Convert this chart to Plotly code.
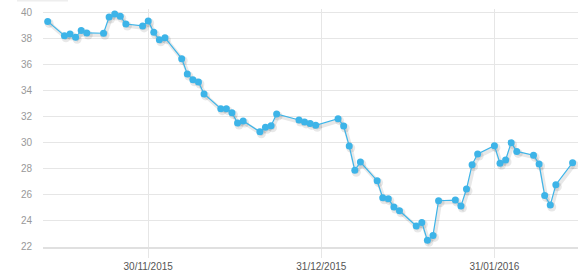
import plotly.graph_objects as go
import pandas as pd

# ---- data ----
dates = [
    "2015-11-12", "2015-11-15", "2015-11-16", "2015-11-17", "2015-11-18", "2015-11-19",
    "2015-11-22", "2015-11-23", "2015-11-24", "2015-11-25", "2015-11-26",
    "2015-11-29", "2015-11-30", "2015-12-01", "2015-12-02", "2015-12-03",
    "2015-12-06", "2015-12-07", "2015-12-08", "2015-12-09", "2015-12-10",
    "2015-12-13", "2015-12-14", "2015-12-15", "2015-12-16", "2015-12-17",
    "2015-12-20", "2015-12-21", "2015-12-22", "2015-12-23",
    "2015-12-27", "2015-12-28", "2015-12-29", "2015-12-30",
    "2016-01-03", "2016-01-04", "2016-01-05", "2016-01-06", "2016-01-07",
    "2016-01-10", "2016-01-11", "2016-01-12", "2016-01-13", "2016-01-14",
    "2016-01-17", "2016-01-18", "2016-01-19", "2016-01-20", "2016-01-21",
    "2016-01-24", "2016-01-25", "2016-01-26", "2016-01-27", "2016-01-28",
    "2016-01-31", "2016-02-01", "2016-02-02", "2016-02-03", "2016-02-04",
    "2016-02-07", "2016-02-08", "2016-02-09", "2016-02-10", "2016-02-11",
    "2016-02-14",
]
values = [
    39.3, 38.2, 38.33, 38.08, 38.59, 38.41,
    38.39, 39.64, 39.87, 39.69, 39.1,
    38.95, 39.33, 38.46, 37.88, 38.05,
    36.44, 35.26, 34.82, 34.65, 33.73,
    32.6, 32.6, 32.29, 31.5, 31.65,
    30.83, 31.17, 31.29, 32.19,
    31.73, 31.58, 31.47, 31.32,
    31.83, 31.27, 29.73, 27.87, 28.5,
    27.07, 25.76, 25.68, 25.05, 24.76,
    23.59, 23.87, 22.49, 22.87, 25.53,
    25.58, 25.12, 26.43, 28.3, 29.12,
    29.76, 28.4, 28.66, 29.99, 29.32,
    29.02, 28.35, 25.94, 25.2, 26.76,
    28.45,
]
tick_dates = ["2015-11-30", "2015-12-31", "2016-01-31"]
tick_labels = ["30/11/2015", "31/12/2015", "31/01/2016"]
y_ticks = [22, 24, 26, 28, 30, 32, 34, 36, 38, 40]

# ---- layout constants ----
W, H = 585, 279
ML, MR, MT, MB = 43, 7, 9, 32
plot_w = W - ML - MR
plot_h = H - MT - MB

x0 = pd.Timestamp("2015-11-11 03:50")
x1 = pd.Timestamp("2016-02-14 23:15")
y_lo, y_hi = 21.98, 40.25

# shadow offset (pixels) converted to axis units
sx = 1.5 * (x1 - x0) / plot_w
sy = 2.0 * (y_hi - y_lo) / plot_h

color = "#3db4e8"
grid = "#e6e6e6"
label_col = "#999999"
font_fam = "Arial, 'Liberation Sans', sans-serif"

fig = go.Figure()

# invisible carrier trace so the base (tick/grid) axes are drawn
fig.add_trace(go.Scatter(
    x=dates, y=values, mode="lines",
    line=dict(color="rgba(0,0,0,0)", width=0),
    hoverinfo="skip", showlegend=False,
))

# soft shadow (same data, drawn on an offset overlay axis pair)
fig.add_trace(go.Scatter(
    x=dates, y=values, mode="lines+markers",
    line=dict(color="rgba(0,0,0,0.09)", width=4),
    marker=dict(size=9, color="rgba(0,0,0,0.09)"),
    xaxis="x2", yaxis="y2", hoverinfo="skip", showlegend=False,
))

# main series on its own overlay (drawn above the shadow)
fig.add_trace(go.Scatter(
    x=dates, y=values, mode="lines+markers",
    line=dict(color=color, width=1.2),
    marker=dict(size=7, color=color),
    xaxis="x3", yaxis="y3", showlegend=False,
))

fig.update_layout(
    width=W, height=H,
    margin=dict(l=ML, r=MR, t=MT, b=MB),
    paper_bgcolor="white", plot_bgcolor="white",
    font=dict(family=font_fam, size=10, color=label_col),
    xaxis=dict(
        type="date", range=[x0, x1],
        tickvals=tick_dates, ticktext=tick_labels,
        showgrid=True, gridcolor=grid, gridwidth=1,
        ticks="outside", ticklen=9, tickcolor=grid, tickwidth=1,
        showline=True, linecolor="#e0e0e0", linewidth=2,
        zeroline=False,
        tickfont=dict(size=10, color="#555555"),
    ),
    yaxis=dict(
        range=[y_lo, y_hi], tickvals=y_ticks,
        showgrid=True, gridcolor=grid, gridwidth=1,
        ticks="", zeroline=False, showline=False,
        ticklabelstandoff=10,
        tickfont=dict(size=10, color=label_col),
    ),
    xaxis2=dict(
        type="date", range=[x0 - sx, x1 - sx], overlaying="x",
        visible=False, showgrid=False,
    ),
    yaxis2=dict(
        range=[y_lo + sy, y_hi + sy], overlaying="y",
        visible=False, showgrid=False,
    ),
    xaxis3=dict(
        type="date", range=[x0, x1], overlaying="x",
        visible=False, showgrid=False,
    ),
    yaxis3=dict(
        range=[y_lo, y_hi], overlaying="y",
        visible=False, showgrid=False,
    ),
    shapes=[dict(
        type="rect", xref="paper", yref="paper",
        x0=(17 - ML) / plot_w, x1=(68 - ML) / plot_w,
        y0=1 + (MT - 1.5) / plot_h, y1=1 + MT / plot_h,
        fillcolor="#eeeeee", line=dict(width=0), layer="below",
    )],
)

fig.write_html("out.html")
